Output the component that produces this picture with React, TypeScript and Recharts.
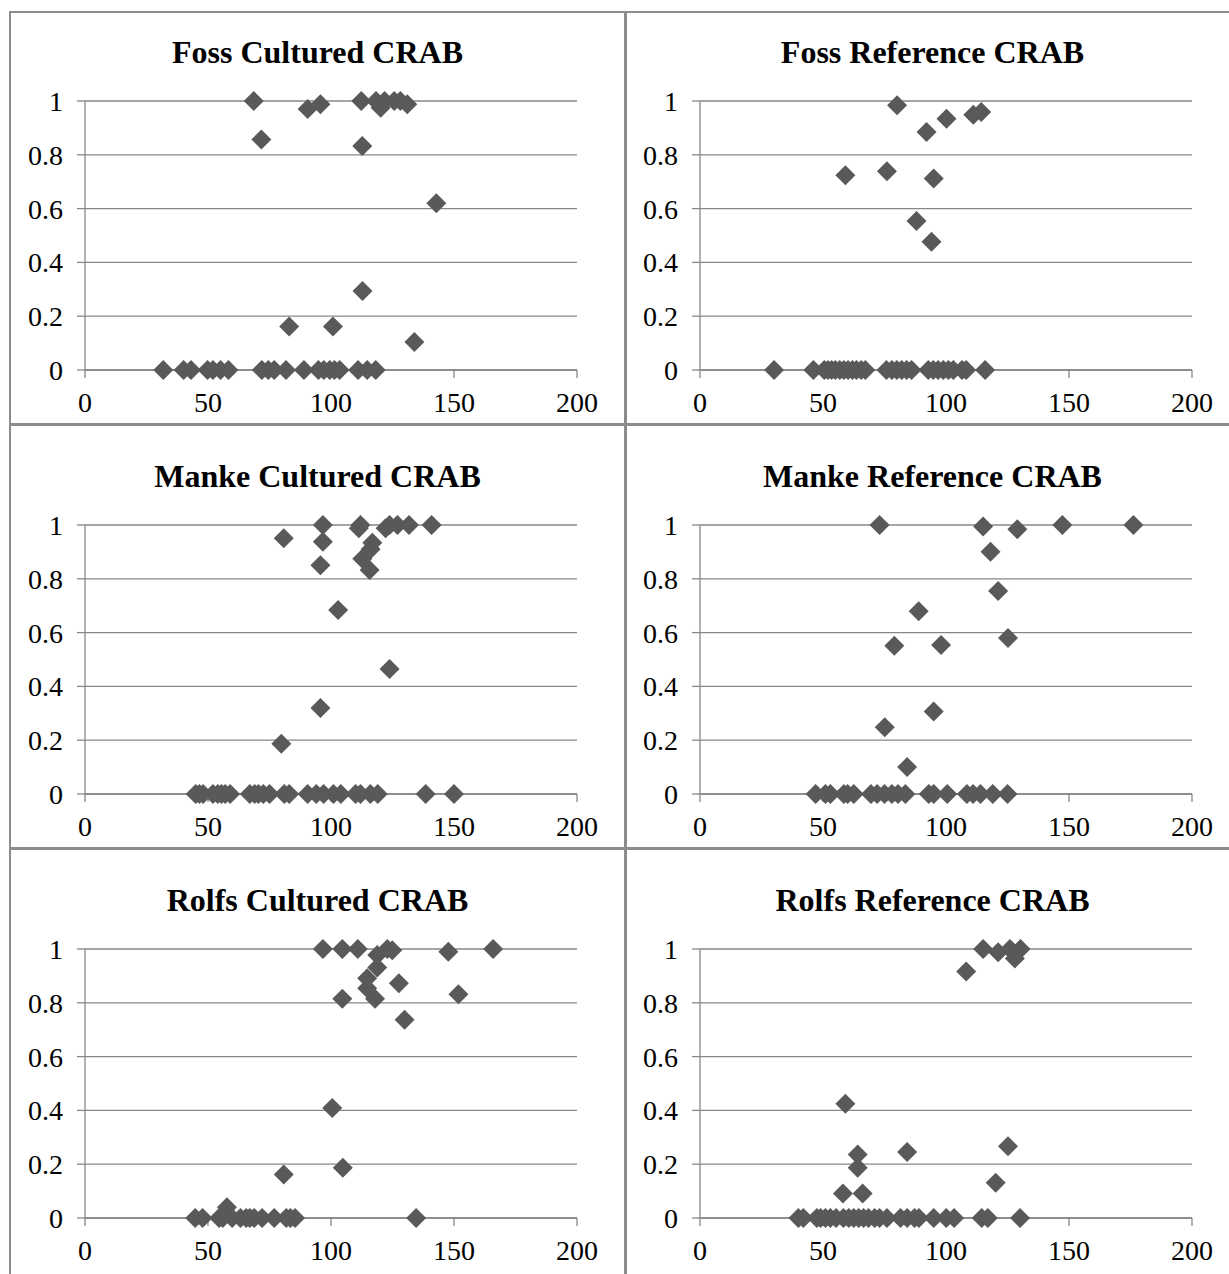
import { ScatterChart, Scatter, XAxis, YAxis, CartesianGrid } from 'recharts';

// Foss Cultured CRAB
const fossCulturedX = [68.6, 71.7, 90.5, 95.7, 112.3, 112.7, 118.3, 120.2, 121.8, 125.7, 128.2, 131, 142.8, 112.8, 83, 100.8, 133.9,
  31.8, 40.1, 43.1, 49.8, 52, 55.1, 58.3, 71.9, 74.5, 76.9, 81.7, 89, 94.9, 97.1, 99.5, 101.4, 103.5, 111, 114.7, 118.2];
const fossCulturedY = [1, 0.857, 0.97, 0.988, 1, 0.833, 1, 0.975, 1, 1, 1, 0.988, 0.62, 0.294, 0.162, 0.162, 0.104,
  0, 0, 0, 0, 0, 0, 0, 0, 0, 0, 0, 0, 0, 0, 0, 0, 0, 0, 0, 0];

// Foss Reference CRAB
const fossReferenceX = [80.1, 100.2, 111.1, 114.3, 92.1, 59.1, 76, 95, 88, 94.1,
  30.1, 46.1, 50.5, 52, 53.5, 55, 56.8, 58.5, 60.2, 62, 63.6, 65.5, 67.2, 75.8, 78, 80, 82, 84, 86, 92.8, 94.8, 96.8, 98.9, 101, 103, 106.5, 108.2, 115.9];
const fossReferenceY = [0.984, 0.934, 0.949, 0.959, 0.885, 0.724, 0.739, 0.712, 0.554, 0.477,
  0, 0, 0, 0, 0, 0, 0, 0, 0, 0, 0, 0, 0, 0, 0, 0, 0, 0, 0, 0, 0, 0, 0, 0, 0, 0, 0, 0];

// Manke Cultured CRAB
const mankeCulturedX = [96.7, 111.3, 112, 122.2, 123.8, 127, 131.7, 140.9, 80.8, 96.7, 95.7, 116.8, 116.1, 112.7, 115.7, 102.9, 123.8, 95.7, 79.8,
  45, 46.5, 48, 52, 54, 55.5, 57, 59, 67, 69, 70.5, 72.5, 75, 81, 83, 90.5, 94, 97, 101, 104, 110, 112, 116, 119, 138.5, 150];
const mankeCulturedY = [1, 0.988, 1, 0.988, 1, 1, 1, 1, 0.951, 0.938, 0.85, 0.934, 0.91, 0.875, 0.833, 0.684, 0.465, 0.32, 0.187,
  0, 0, 0, 0, 0, 0, 0, 0, 0, 0, 0, 0, 0, 0, 0, 0, 0, 0, 0, 0, 0, 0, 0, 0, 0, 0];

// Manke Reference CRAB
const mankeReferenceX = [73, 115.1, 129, 147.3, 176.2, 118.1, 121.2, 88.9, 79, 98, 125.2, 95, 75.1, 84.2,
  47, 51, 53, 58.5, 60, 62.5, 69.5, 72, 75, 78, 80.5, 83.5, 93, 95, 100.5, 108.5, 111, 114, 119, 125];
const mankeReferenceY = [1, 0.994, 0.984, 1, 1, 0.901, 0.755, 0.679, 0.551, 0.554, 0.58, 0.307, 0.248, 0.1,
  0, 0, 0, 0, 0, 0, 0, 0, 0, 0, 0, 0, 0, 0, 0, 0, 0, 0, 0, 0];

// Rolfs Cultured CRAB
const rolfsCulturedX = [96.7, 104.6, 110.9, 122.9, 124.9, 147.7, 165.9, 118.8, 118.8, 114.7, 114.7, 127.6, 151.8, 104.6, 117.9, 129.9, 100.5, 104.8, 80.8, 57.7,
  44.8, 47.8, 54.5, 56, 59.8, 63.2, 65.5, 67, 68.8, 72, 76.9, 81.8, 83.5, 85.4, 134.6];
const rolfsCulturedY = [1, 1, 1, 1, 0.995, 0.99, 1, 0.978, 0.931, 0.891, 0.854, 0.873, 0.832, 0.815, 0.815, 0.737, 0.409, 0.187, 0.162, 0.04,
  0, 0, 0, 0, 0, 0, 0, 0, 0, 0, 0, 0, 0, 0, 0];

// Rolfs Reference CRAB
const rolfsReferenceX = [115.1, 121.2, 126, 130.3, 128, 108.2, 59.1, 64.1, 64.1, 84.2, 125.2, 120.2, 58.1, 66.1,
  40, 42, 47.5, 49, 51, 53, 55.3, 58.3, 60.5, 62.5, 64.5, 66.5, 68.5, 71, 73, 76, 81.5, 84.2, 87.2, 89, 95, 100.1, 103.3, 114.5, 117, 130.1];
const rolfsReferenceY = [1, 0.988, 1, 1, 0.965, 0.916, 0.425, 0.236, 0.187, 0.245, 0.267, 0.131, 0.091, 0.091,
  0, 0, 0, 0, 0, 0, 0, 0, 0, 0, 0, 0, 0, 0, 0, 0, 0, 0, 0, 0, 0, 0, 0, 0, 0, 0];

const xTicks = [0, 50, 100, 150, 200];
const yTicks = [0, 0.2, 0.4, 0.6, 0.8, 1];

const panels = [
  { title: 'Foss Cultured CRAB', xs: fossCulturedX, ys: fossCulturedY },
  { title: 'Foss Reference CRAB', xs: fossReferenceX, ys: fossReferenceY },
  { title: 'Manke Cultured CRAB', xs: mankeCulturedX, ys: mankeCulturedY },
  { title: 'Manke Reference CRAB', xs: mankeReferenceX, ys: mankeReferenceY },
  { title: 'Rolfs Cultured CRAB', xs: rolfsCulturedX, ys: rolfsCulturedY },
  { title: 'Rolfs Reference CRAB', xs: rolfsReferenceX, ys: rolfsReferenceY },
];

const FONT = 'Liberation Serif, Times New Roman, serif';
const GRID = '#878787';
const MARK = '#595959';
const CELL_W = 615;
const CELL_H = 424;

const Diamond = (props: any) => {
  const { cx, cy } = props;
  if (cx == null || cy == null) return null;
  const r = 10;
  return (
    <polygon
      points={`${cx},${cy - r} ${cx + r},${cy} ${cx},${cy + r} ${cx - r},${cy}`}
      fill={MARK}
    />
  );
};

// axis tick label drawn in the serif font
const TickText = (props: any) => {
  const { x, y, payload, textAnchor, orientation } = props;
  const dy = orientation === 'bottom' ? '0.71em' : '0.355em';
  return (
    <text x={x} y={y} dy={dy} textAnchor={textAnchor} fill="#000" fontSize={28} fontFamily={FONT}>
      {payload.value}
    </text>
  );
};

function Panel({ title, xs, ys, col, row }: { title: string; xs: number[]; ys: number[]; col: number; row: number }) {
  const data = xs.map((x, i) => ({ x, y: ys[i] }));
  const left = col * CELL_W;
  const top = row * CELL_H;
  return (
    <>
      <div
        style={{
          position: 'absolute',
          left: left + 10,
          top: top + 36,
          width: CELL_W,
          textAlign: 'center',
          fontFamily: FONT,
          fontWeight: 'bold',
          fontSize: 32,
          lineHeight: '32px',
          color: '#000',
        }}
      >
        {title}
      </div>
      <div style={{ position: 'absolute', left, top, fontFamily: FONT }}>
        <ScatterChart width={CELL_W} height={CELL_H} margin={{ top: 101, right: 38, bottom: 0, left: 25 }}>
          <CartesianGrid horizontal vertical={false} stroke={GRID} strokeWidth={1.3} />
          <XAxis
            type="number"
            dataKey="x"
            domain={[0, 200]}
            ticks={xTicks}
            height={54}
            axisLine={{ stroke: GRID, strokeWidth: 1.3 }}
            tickLine={{ stroke: GRID, strokeWidth: 1.3 }}
            tickSize={8}
            tickMargin={14}
            tick={<TickText />}
            interval={0}
          />
          <YAxis
            type="number"
            dataKey="y"
            domain={[0, 1]}
            ticks={yTicks}
            width={60}
            axisLine={{ stroke: GRID, strokeWidth: 1.3 }}
            tickLine={{ stroke: GRID, strokeWidth: 1.3 }}
            tickSize={8}
            tickMargin={14}
            tick={<TickText />}
            interval={0}
          />
          <Scatter data={data} shape={Diamond} isAnimationActive={false} />
        </ScatterChart>
      </div>
    </>
  );
}

export default function App() {
  return (
    <div style={{ position: 'absolute', left: 0, top: 0, width: 1229, height: 1274, background: '#fff', overflow: 'hidden' }}>
      {/* table borders */}
      <div style={{ position: 'absolute', left: 10, top: 11, width: 1219, height: 2, background: '#8c8c8c' }} />
      <div style={{ position: 'absolute', left: 9, top: 11, width: 2, height: 1263, background: '#8c8c8c' }} />
      <div style={{ position: 'absolute', left: 624, top: 11, width: 3, height: 1263, background: '#8c8c8c' }} />
      <div style={{ position: 'absolute', left: 9, top: 423, width: 1220, height: 3, background: '#8c8c8c' }} />
      <div style={{ position: 'absolute', left: 9, top: 847, width: 1220, height: 3, background: '#8c8c8c' }} />
      {panels.map((p, i) => (
        <Panel key={p.title} title={p.title} xs={p.xs} ys={p.ys} col={i % 2} row={Math.floor(i / 2)} />
      ))}
    </div>
  );
}
